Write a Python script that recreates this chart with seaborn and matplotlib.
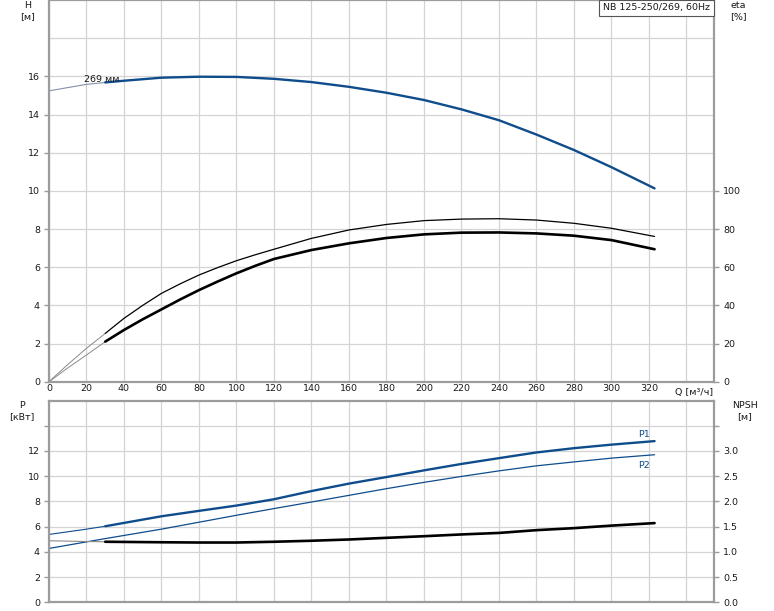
import numpy as np
import pandas as pd
import matplotlib
matplotlib.use("Agg")
import matplotlib.pyplot as plt
import seaborn as sns

# ---------------- data ----------------
q_h = [0, 20, 30, 40, 60, 80, 100, 120, 140, 160, 180, 200, 220, 240, 260, 280, 300, 323]
head = [15.24, 15.58, 15.68, 15.77, 15.93, 15.98, 15.97, 15.87, 15.7, 15.45, 15.14, 14.76,
        14.27, 13.7, 12.95, 12.14, 11.24, 10.13]

q_eta = [0, 10, 20, 30, 40, 50, 60, 70, 80, 90, 100, 110, 120, 140, 160, 180, 200, 220,
         240, 260, 280, 300, 323]
eta_pump = [0, 9.0, 17.5, 25.3, 33.2, 40.0, 46.3, 51.3, 55.9, 59.8, 63.4, 66.5, 69.4, 75.1,
            79.5, 82.4, 84.4, 85.2, 85.4, 84.7, 83.0, 80.4, 76.1]
eta_total = [0, 7.2, 14.0, 21.0, 27.1, 32.7, 37.9, 43.1, 48.0, 52.5, 56.8, 60.7, 64.3, 69.0,
             72.5, 75.3, 77.2, 78.1, 78.2, 77.7, 76.5, 74.2, 69.4]

q_p = [0, 20, 30, 60, 80, 100, 120, 140, 160, 180, 200, 220, 240, 260, 280, 300, 323]
p1 = [5.38, 5.8, 6.03, 6.82, 7.25, 7.67, 8.17, 8.82, 9.41, 9.93, 10.46, 10.97, 11.43, 11.88,
      12.22, 12.5, 12.78]
p2 = [4.27, 4.79, 5.05, 5.8, 6.35, 6.9, 7.43, 7.95, 8.48, 9.01, 9.51, 9.98, 10.42, 10.82,
      11.13, 11.43, 11.7]
npsh = [1.22, 1.205, 1.2, 1.19, 1.185, 1.185, 1.2, 1.22, 1.245, 1.278, 1.31, 1.345, 1.375,
        1.43, 1.47, 1.52, 1.57]

q_ticks = list(range(0, 321, 20))
h_ticks = list(range(0, 17, 2))
eta_ticks = list(range(0, 101, 20))
p_ticks = list(range(0, 15, 2))
npsh_ticks = [0.0, 0.5, 1.0, 1.5, 2.0, 2.5, 3.0, 3.5]

title = "NB 125-250/269, 60Hz"
q_split = 30

# ---------------- style ----------------
sns.set_style("white")
plt.rcParams['font.family'] = ['DejaVu Sans']
FS = 6.8
BLUE = '#0f4c8c'
GRID = '#d4d4d4'
SPINE = '#9c9c9c'
TXT = '#1a1a1a'

W, H = 774, 611
fig = plt.figure(figsize=(W / 100, H / 100), dpi=100)
L, R = 49 / W, 714 / W
ax1 = fig.add_axes([L, 1 - 381.7 / H, R - L, 381.7 / H])
ax2 = fig.add_axes([L, 1 - 602.3 / H, R - L, (602.3 - 400.5) / H])
XMAX = 354.7


def seg(q, v, lo=None, hi=None):
    q = np.asarray(q, float)
    v = np.asarray(v, float)
    m = np.ones_like(q, bool)
    if lo is not None:
        m &= q >= lo
    if hi is not None:
        m &= q <= hi
    return pd.DataFrame({"Q": q[m], "v": v[m]})


def line(ax, df, color, lw):
    sns.lineplot(data=df, x="Q", y="v", ax=ax, color=color, linewidth=lw,
                 estimator=None, sort=True, legend=False)


def style_axes(ax):
    for s in ax.spines.values():
        s.set_color(SPINE)
        s.set_linewidth(1.6)
    ax.set_xlim(0, XMAX)
    ax.set_xlabel("")
    ax.set_ylabel("")
    ax.grid(True, which='both', color=GRID, linewidth=0.9)
    ax.set_axisbelow(True)
    ax.set_xticks(list(range(20, 341, 20)), minor=True)
    ax.tick_params(axis='x', which='both', length=0)
    ax.tick_params(axis='y', which='major', length=3.5, color=SPINE, width=1,
                   labelsize=FS, labelcolor=TXT, pad=3)
    ax.tick_params(axis='y', which='minor', length=0)


# ---------------- top panel ----------------
ax1.set_ylim(0, 20)
style_axes(ax1)
ax1.set_yticks(h_ticks)
ax1.set_yticks([18], minor=True)
ax1.set_xticks(q_ticks)
ax1.set_xticklabels([str(t) for t in q_ticks], fontsize=FS, color=TXT)
ax1.tick_params(axis='x', which='major', pad=2)

eta_scale = 10.0  # eta % per head unit
line(ax1, seg(q_h, head, hi=q_split), '#8391a8', 0.8)
line(ax1, seg(q_h, head, lo=q_split), BLUE, 1.7)
line(ax1, seg(q_eta, np.array(eta_pump) / eta_scale, hi=q_split), '#8a8a8a', 0.7)
line(ax1, seg(q_eta, np.array(eta_pump) / eta_scale, lo=q_split), 'black', 0.9)
line(ax1, seg(q_eta, np.array(eta_total) / eta_scale, hi=q_split), '#8a8a8a', 0.7)
line(ax1, seg(q_eta, np.array(eta_total) / eta_scale, lo=q_split), 'black', 1.9)
ax1.set_xlabel("")
ax1.set_ylabel("")
ax1.text(18.5, 15.85, "269 мм", fontsize=FS, color=TXT, va='center', ha='left')

ax1r = ax1.twinx()
ax1r.set_ylim(0, 200)
ax1r.set_yticks(eta_ticks)
ax1r.grid(False)
for s in ax1r.spines.values():
    s.set_visible(False)
ax1r.tick_params(axis='y', length=3.5, color=SPINE, width=1, labelsize=FS,
                 labelcolor=TXT, pad=3)

ax1.text((693.7 - 49) / 1.875, -0.35, "Q [м³/ч]", fontsize=FS, color=TXT,
         ha='center', va='top', transform=ax1.transData, clip_on=False)

ax1.text((710 - 49) / 665, 1 - 7.8 / 381.7, title, transform=ax1.transAxes,
         ha='right', va='center', fontsize=FS, color=TXT, zorder=10,
         bbox=dict(boxstyle='square,pad=0.4', fc='white', ec='#555555', lw=0.8))

# ---------------- bottom panel ----------------
ax2.set_ylim(0, 16)
style_axes(ax2)
ax2.set_yticks(p_ticks)
ax2.set_yticklabels([str(t) if t <= 12 else "" for t in p_ticks])
ax2.set_xticks(q_ticks)
ax2.set_xticklabels([])

npsh_scale = 4.0  # P units per NPSH metre
line(ax2, seg(q_p, p1, hi=q_split), BLUE, 0.8)
line(ax2, seg(q_p, p1, lo=q_split), BLUE, 1.7)
line(ax2, seg(q_p, p2), BLUE, 0.9)
line(ax2, seg(q_p, np.array(npsh) * npsh_scale, hi=q_split), '#8a8a8a', 0.8)
line(ax2, seg(q_p, np.array(npsh) * npsh_scale, lo=q_split), 'black', 1.9)
ax2.set_xlabel("")
ax2.set_ylabel("")
ax2.text(317.5, 13.3, "P1", fontsize=FS, color=BLUE, ha='center', va='center')
ax2.text(317.5, 10.85, "P2", fontsize=FS, color=BLUE, ha='center', va='center')

ax2r = ax2.twinx()
ax2r.set_ylim(0, 4)
ax2r.set_yticks(npsh_ticks)
ax2r.set_yticklabels([f"{t:.1f}" if t <= 3.0 else "" for t in npsh_ticks])
ax2r.grid(False)
for s in ax2r.spines.values():
    s.set_visible(False)
ax2r.tick_params(axis='y', length=3.5, color=SPINE, width=1, labelsize=FS,
                 labelcolor=TXT, pad=3)

# ---------------- axis unit labels ----------------
def flabel(xpx, ypx, s):
    fig.text(xpx / W, 1 - ypx / H, s, fontsize=FS, color=TXT, ha='center', va='center')

flabel(28, 6, "H")
flabel(28, 17, "[м]")
flabel(738, 6, "eta")
flabel(738, 17, "[%]")
flabel(22, 406, "P")
flabel(22, 417, "[кВт]")
flabel(745, 406, "NPSH")
flabel(745, 417, "[м]")

fig.savefig("out.png", dpi=100, facecolor='white')
